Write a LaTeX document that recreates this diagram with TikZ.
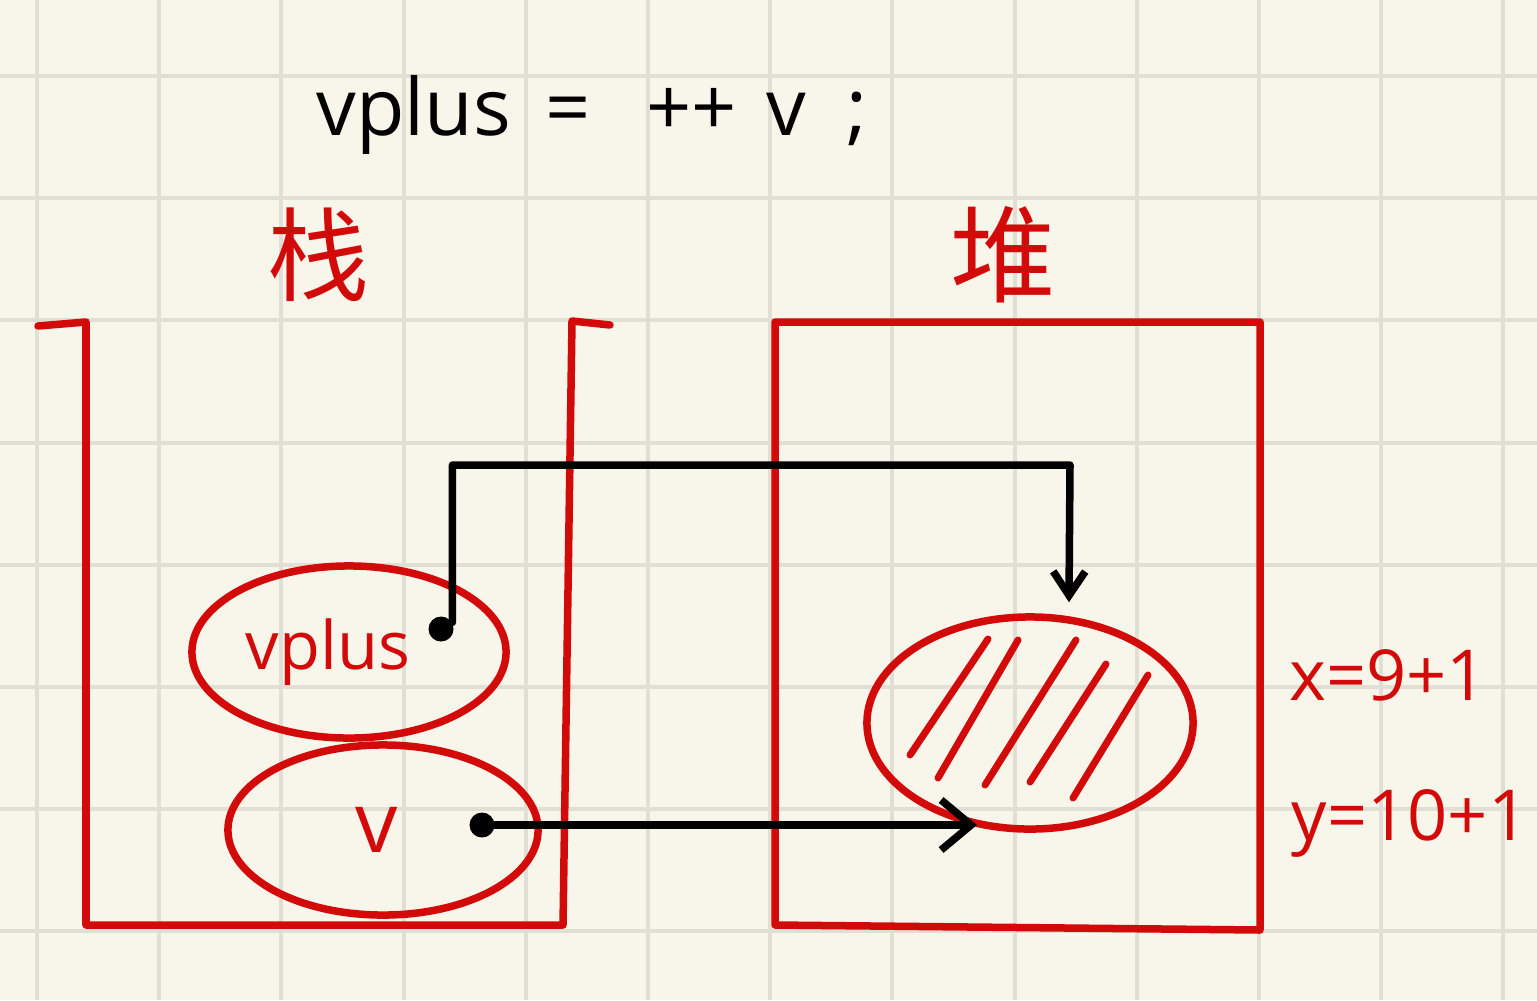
\documentclass[tikz,border=0pt]{standalone}
\usepackage{fontspec}
\setmainfont{Open Sans}
\newfontfamily\cjk{Noto Sans CJK SC}
\usetikzlibrary{shapes.geometric, arrows.meta}
\definecolor{paper}{HTML}{F8F5EA}
\definecolor{gridgray}{HTML}{E1DFD4}
\definecolor{inkred}{HTML}{D20A0A}
\tikzstyle{gridline} = [draw=gridgray, line width=0.04cm]
\tikzstyle{wall} = [draw=inkred, line width=0.075cm, line join=round, line cap=round]
\tikzstyle{var} = [draw=inkred, ellipse, line width=0.075cm, text=inkred, inner sep=0pt]
\tikzstyle{dot} = [fill=black, circle, minimum size=0.25cm, inner sep=0pt]
\tikzstyle{pointer} = [draw=black, line width=0.075cm, line cap=round, line join=round]
\tikzstyle{hatch} = [draw=inkred, line width=0.07cm, line cap=round]
\tikzstyle{note} = [text=inkred, inner sep=0pt]

\begin{document}
\begin{tikzpicture}[x=0.01cm, y=-0.01cm]
	% We start with the squared paper
	\useasboundingbox (0,0) rectangle (1537,1000);
	\fill[paper] (0,0) rectangle (1537,1000);
	\foreach \i in {0,...,12}
		\draw[gridline] ({37+122.2*\i},0) -- ++(0,1000);
	\foreach \j in {0,...,7}
		\draw[gridline] (0,{76+122.2*\j}) -- ++(1537,0);

	% The statement on top
	\node[anchor=base, inner sep=0pt] (stmt) at (592,135)
		{\fontsize{22.5}{26}\selectfont vplus\hspace{0.35cm}=\hspace{0.55cm}++\hspace{0.3cm}v\hspace{0.4cm};};

	% Stack and heap with their titles
	\node[note] (stacktitle) at (318,255) {\cjk\fontsize{29}{32}\selectfont 栈};
	\node[note] (heaptitle) at (1003,255) {\cjk\fontsize{30}{33}\selectfont 堆};
	\draw[wall] (38,326) -- (86,322) -- (86,925) -- (563,925) -- (572,321) -- (610,325);
	\draw[wall] (775,322) -- (1260,322) -- (1260,930) -- (775,925) -- cycle;

	% The variables
	\node[var, minimum width=3.14cm, minimum height=1.72cm] (vplus) at (349,652)
		{\fontsize{19}{23}\selectfont\makebox[0pt]{vplus\hspace{0.42cm}}};
	\node[var, minimum width=3.1cm, minimum height=1.7cm] (v) at (383,830)
		{\fontsize{24}{28}\selectfont\makebox[0pt]{v\hspace{0.12cm}}};
	\node[var, minimum width=3.26cm, minimum height=2.12cm] (heap) at (1030,723) {};
	\draw[hatch] (988,639) -- (910,755);
	\draw[hatch] (1018,640) -- (938,778);
	\draw[hatch] (1076,640) -- (985,785);
	\draw[hatch] (1106,664) -- (1030,782);
	\draw[hatch] (1148,675) -- (1073,798);

	% The pointers
	\node[dot] (vpdot) at (441,629) {};
	\node[dot] (vdot) at (482,825) {};
	\coordinate (bend) at (1070,465);
	\draw[pointer, -{Straight Barb[length=0.24cm, width=0.32cm, line width=0.075cm]}, shorten >=0.14cm]
		(vpdot.30) |- (bend) -- (heap.70);
	\draw[pointer, -{Straight Barb[length=0.3cm, width=0.5cm, line width=0.075cm]}]
		(vdot) -- (vdot -| heap.243);

	% The values in the heap
	\node[note, anchor=base] (xval) at (1388,700) {\fontsize{20}{24}\selectfont x=9+1};
	\node[note, anchor=base] (yval) at (1410,840) {\fontsize{20}{24}\selectfont y=10+1};
\end{tikzpicture}
\end{document}
